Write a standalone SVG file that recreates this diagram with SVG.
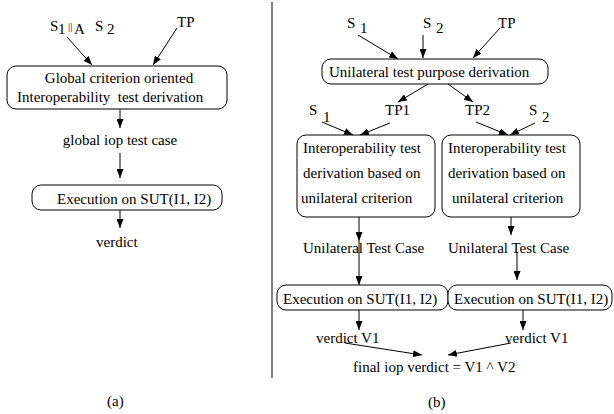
<svg xmlns="http://www.w3.org/2000/svg" width="614" height="414" viewBox="0 0 614 414">
<defs>
<marker id="ah" markerUnits="userSpaceOnUse" markerWidth="9" markerHeight="7" refX="9" refY="3.5" orient="auto">
<path d="M0,0 L9,3.5 L0,7 z" fill="#000"/>
</marker>
<style>
text{font-family:"Liberation Serif","Times New Roman",serif;font-size:15px;fill:#000}
.box{fill:#fff;stroke:#000;stroke-width:1}
.c line{stroke:#000;stroke-width:1;marker-end:url(#ah)}
.m{text-anchor:middle}
</style>
</defs>
<rect width="614" height="414" fill="#fff"/>
<line x1="272" y1="2" x2="272" y2="378" stroke="#000" stroke-width="1"/>

<!-- panel (a) -->
<g id="a_inputs">
<text x="50" y="31">S</text><text x="58" y="34">1</text>
<text x="68" y="30" style="font-size:11px">||</text><text x="74" y="34">A</text>
<text x="95" y="31">S</text><text x="107" y="34">2</text>
<text x="177" y="27">TP</text>
</g>
<g id="a_derivation">
<rect class="box" x="7" y="66" width="220" height="43" rx="9"/>
<text class="m" x="119" y="83">Global criterion oriented</text>
<text x="17" y="102" xml:space="preserve">Interoperability  test derivation</text>
</g>
<g id="a_testcase"><text class="m" x="120" y="145">global iop test case</text></g>
<g id="a_execution">
<rect class="box" x="32" y="185" width="190" height="25" rx="9"/>
<text x="57" y="204">Execution on SUT(I1, I2)</text>
</g>
<g id="a_verdict"><text x="96" y="247">verdict</text></g>
<text x="107" y="406">(a)</text>

<!-- panel (b) -->
<g id="b_inputs">
<text x="347" y="28">S</text><text x="360" y="33">1</text>
<text x="423" y="28">S</text><text x="436" y="33">2</text>
<text x="498" y="28">TP</text>
</g>
<g id="b_tpderivation">
<rect class="box" x="322" y="59" width="226" height="25" rx="9"/>
<text x="329" y="77">Unilateral test purpose derivation</text>
</g>
<g id="b_inputs_left">
<text x="309" y="115">S</text><text x="323" y="122">1</text>
<text x="385" y="115">TP1</text>
</g>
<g id="b_inputs_right">
<text x="465" y="115">TP2</text>
<text x="529" y="115">S</text><text x="542" y="122">2</text>
</g>
<g id="b_derivation_left">
<rect class="box" x="297" y="135" width="138" height="82" rx="9"/>
<text x="303" y="153">Interoperability test</text>
<text x="303" y="178">derivation based on</text>
<text x="301" y="203">unilateral criterion</text>
</g>
<g id="b_derivation_right">
<rect class="box" x="442" y="135" width="138" height="82" rx="9"/>
<text x="448" y="153">Interoperability test</text>
<text x="448" y="178">derivation based on</text>
<text x="452" y="203">unilateral criterion</text>
</g>
<g id="b_testcase_left"><text x="303" y="253">Unilateral Test Case</text></g>
<g id="b_testcase_right"><text x="448" y="253">Unilateral Test Case</text></g>
<g id="b_execution_left">
<rect class="box" x="277" y="285" width="171" height="25" rx="9"/>
<text x="283" y="304">Execution on SUT(I1, I2)</text>
</g>
<g id="b_execution_right">
<rect class="box" x="448" y="285" width="164" height="25" rx="9"/>
<text x="454" y="304">Execution on SUT(I1, I2)</text>
</g>
<g id="b_verdict_left"><text x="316" y="343">verdict V1</text></g>
<g id="b_verdict_right"><text x="505" y="343">verdict V1</text></g>
<g id="b_final"><text x="353" y="372">final iop verdict = V1 ^ V2</text></g>
<text x="428" y="407">(b)</text>

<g id="connectors" class="c">
<line x1="67" y1="37" x2="92" y2="65"/>
<line x1="177" y1="28" x2="153" y2="65"/>
<line x1="120" y1="109" x2="120" y2="128"/>
<line x1="120" y1="153" x2="120" y2="178"/>
<line x1="120" y1="210" x2="120" y2="228"/>

<line x1="358" y1="35" x2="398" y2="59"/>
<line x1="423" y1="35" x2="423" y2="58"/>
<line x1="500" y1="28" x2="473" y2="58"/>
<line x1="428" y1="84" x2="398" y2="102"/>
<line x1="448" y1="84" x2="473" y2="102"/>
<line x1="322" y1="122" x2="353" y2="135"/>
<line x1="390" y1="123" x2="360" y2="135"/>
<line x1="476" y1="122" x2="508" y2="135"/>
<line x1="535" y1="123" x2="510" y2="135"/>
<line x1="359" y1="217" x2="359" y2="241"/>
<line x1="359" y1="241" x2="359" y2="285"/>
<line x1="511" y1="217" x2="511" y2="235"/>
<line x1="517" y1="252" x2="517" y2="280"/>
<line x1="359" y1="310" x2="359" y2="330"/>
<line x1="523" y1="310" x2="523" y2="330"/>
<line x1="345" y1="343" x2="422" y2="355"/>
<line x1="511" y1="343" x2="448" y2="355"/>
</g>
</svg>
